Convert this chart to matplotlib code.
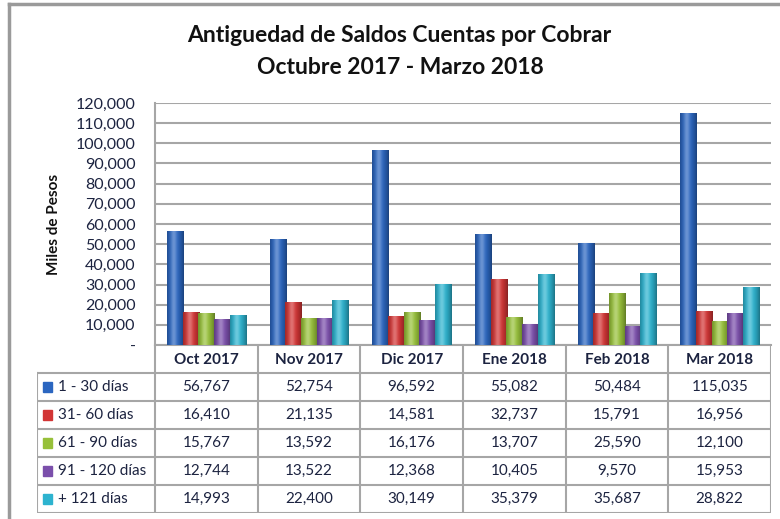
import numpy as np
import matplotlib
matplotlib.use("Agg")
import matplotlib.pyplot as plt
from matplotlib.colors import to_rgb
from matplotlib.lines import Line2D
from matplotlib.patches import Rectangle

meses = ["Oct 2017", "Nov 2017", "Dic 2017", "Ene 2018", "Feb 2018", "Mar 2018"]
rangos = ["1 - 30 días", "31- 60 días", "61 - 90 días", "91 - 120 días", "+ 121 días"]

d_1_30 = [56767, 52754, 96592, 55082, 50484, 115035]
d_31_60 = [16410, 21135, 14581, 32737, 15791, 16956]
d_61_90 = [15767, 13592, 16176, 13707, 25590, 12100]
d_91_120 = [12744, 13522, 12368, 10405, 9570, 15953]
d_121 = [14993, 22400, 30149, 35379, 35687, 28822]

series = [d_1_30, d_31_60, d_61_90, d_91_120, d_121]
colores = ["#2b66c0", "#d23535", "#97c03a", "#7b4fab", "#2db3cf"]

plt.rcParams["font.family"] = ["Lato", "DejaVu Sans"]
txt = "#1c2340"
grid_c = "#a6a6a6"


def gradiente(color, n=40):
    # sombreado tipo Excel: bordes oscuros, brillo cerca del centro
    base = np.array(to_rgb(color))
    t = np.linspace(0, 1, n)
    luz = 0.30 * np.exp(-((t - 0.4) / 0.18) ** 2)
    sombra = 0.35 * (np.abs(t - 0.45) / 0.55) ** 2
    rgb = base[None, :] * (1 - sombra[:, None])
    rgb = rgb + (1 - rgb) * luz[:, None]
    return rgb[None, :, :]


fig = plt.figure(figsize=(7.8, 5.19), dpi=100)
W, H = 780, 519

ax = fig.add_axes([155 / W, 1 - 345 / H, (771 - 155) / W, (345 - 103) / H])
x = np.arange(len(meses))
ancho = 0.165
paso = 0.152
for j, (vals, c) in enumerate(zip(series, colores)):
    bars = ax.bar(x + (j - 2) * paso + 0.005, vals, ancho, color=c, zorder=3)
    img = gradiente(c)
    for b in bars:
        x0, y0 = b.get_x(), b.get_y()
        im = ax.imshow(img, extent=[x0, x0 + b.get_width(), y0, y0 + b.get_height()],
                       aspect="auto", zorder=3.5, interpolation="bilinear")
        im.set_clip_path(b)

ax.set_xlim(-0.5, len(meses) - 0.5)
ax.set_ylim(0, 120000)
ax.set_yticks(np.arange(0, 120001, 10000))
ax.set_yticklabels(["-"] + [f"{v:,}" for v in range(10000, 120001, 10000)])
ax.tick_params(axis="y", length=0, labelsize=11.5, labelcolor=txt, pad=14)
ax.set_xticks([])
ax.yaxis.grid(True, color=grid_c, linewidth=1.5, zorder=0)
for s in ["top", "right"]:
    ax.spines[s].set_visible(False)
for s in ["left", "bottom"]:
    ax.spines[s].set_color(grid_c)
    ax.spines[s].set_linewidth(1.5)
ax.set_ylabel("Miles de Pesos", fontsize=11, fontweight="bold", color="#111111")
ax.yaxis.set_label_coords((61 - 155) / 616, 0.5)

# tabla de datos
izq = -0.5 - (155 - 37) / 102.7
tax = fig.add_axes([37 / W, 1 - 513 / H, (771 - 37) / W, (513 - 345) / H])
tax.set_xlim(izq, len(meses) - 0.5)
tax.set_ylim(6, 0)
tax.axis("off")
lw = 1.5
for r in range(1, 7):
    tax.add_line(Line2D([izq, len(meses) - 0.5], [r, r], color=grid_c, lw=lw))
tax.add_line(Line2D([izq, izq], [1, 6], color=grid_c, lw=lw))
for k in range(len(meses) + 1):
    tax.add_line(Line2D([k - 0.5, k - 0.5], [0, 6], color=grid_c, lw=lw))

for i, m in enumerate(meses):
    tax.text(i, 0.55, m, ha="center", va="center", fontsize=11, fontweight="bold",
             color=txt)
for r, (nombre, vals, c) in enumerate(zip(rangos, series, colores), start=1):
    tax.add_patch(Rectangle((izq + 0.06, r + 0.33), 0.085, 0.34, color=c))
    tax.text(izq + 0.2, r + 0.5, nombre, ha="left", va="center", fontsize=11,
             color=txt)
    for i, v in enumerate(vals):
        tax.text(i, r + 0.5, f"{v:,}", ha="center", va="center", fontsize=11,
                 color=txt)

fig.text(399 / W, 1 - 35 / H, "Antiguedad de Saldos Cuentas por Cobrar",
         ha="center", va="center", fontsize=16.5, fontweight="bold", color="#111111")
fig.text(400 / W, 1 - 67 / H, "Octubre 2017 - Marzo 2018",
         ha="center", va="center", fontsize=16.5, fontweight="bold", color="#111111")

# marco exterior
fig.add_artist(Line2D([9 / W, 9 / W], [0, 1 - 4 / H], color="#9a9a9a", lw=2.5))
fig.add_artist(Line2D([9 / W, 1], [1 - 4 / H, 1 - 4 / H], color="#9a9a9a", lw=2.5))

fig.savefig("out.png", dpi=100)
